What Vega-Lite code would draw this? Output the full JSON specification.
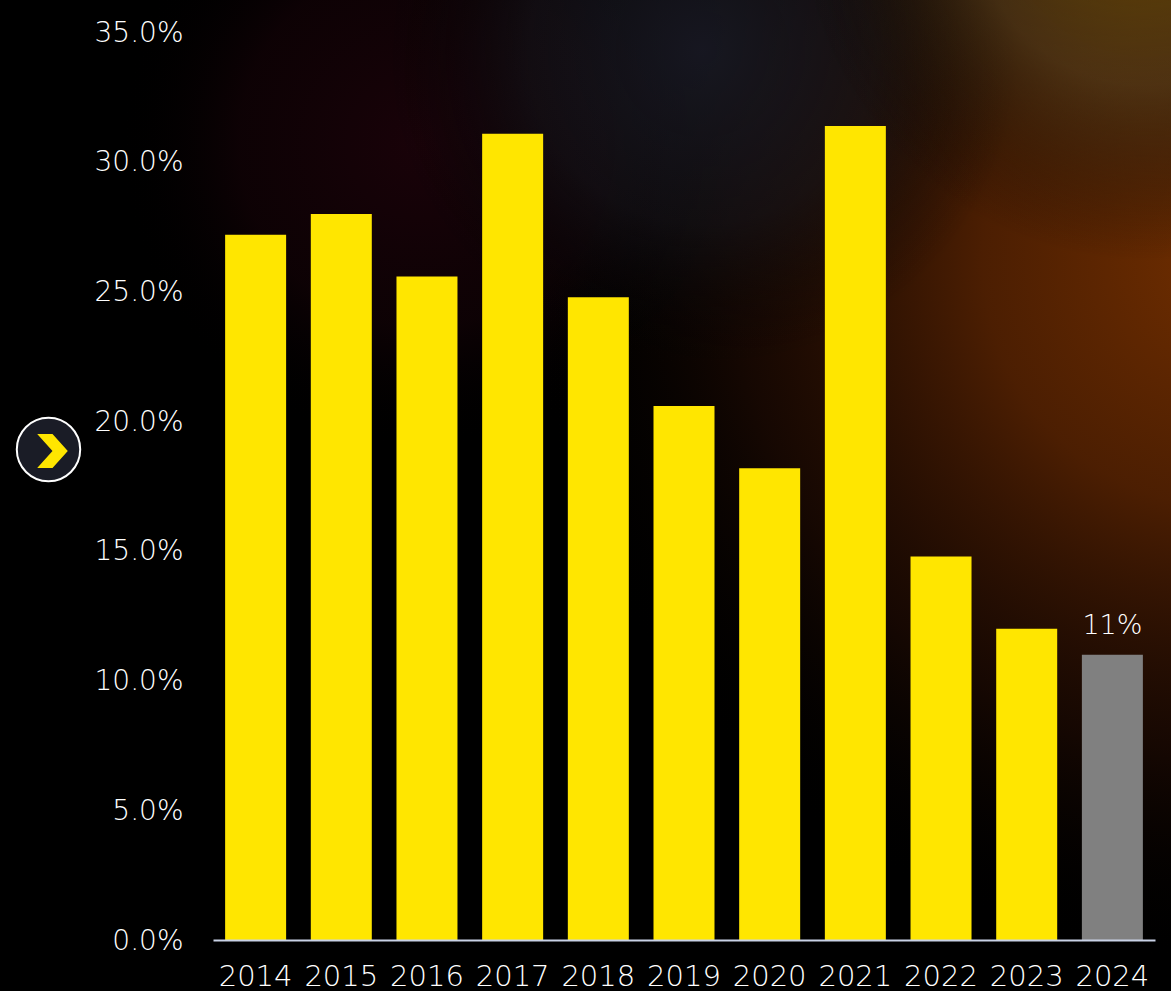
{
  "$schema": "https://vega.github.io/schema/vega-lite/v6.json",
  "width": 942,
  "height": 908,
  "autosize": "none",
  "padding": {"left": 213, "top": 32, "right": 16, "bottom": 51},
  "background": "#000000",
  "config": {"view": {"stroke": null}},
  "datasets": {
    "rates": [
      {"year": "2014", "rate": 27.18, "status": "past"},
      {"year": "2015", "rate": 27.98, "status": "past"},
      {"year": "2016", "rate": 25.58, "status": "past"},
      {"year": "2017", "rate": 31.08, "status": "past"},
      {"year": "2018", "rate": 24.78, "status": "past"},
      {"year": "2019", "rate": 20.58, "status": "past"},
      {"year": "2020", "rate": 18.18, "status": "past"},
      {"year": "2021", "rate": 31.38, "status": "past"},
      {"year": "2022", "rate": 14.78, "status": "past"},
      {"year": "2023", "rate": 12.0, "status": "past"},
      {"year": "2024", "rate": 11.0, "status": "latest"}
    ]
  },
  "layer": [
    {
      "data": {"values": [{"panel": "glow"}]},
      "mark": {
        "type": "rect",
        "clip": false,
        "fill": {
          "gradient": "radial", "x1": 1.05, "y1": 0.3, "r1": 0, "x2": 1.05, "y2": 0.3, "r2": 0.6,
          "stops": [
            {"offset": 0, "color": "rgba(112,46,0,1)"},
            {"offset": 0.35, "color": "rgba(80,32,2,0.95)"},
            {"offset": 0.7, "color": "rgba(40,14,4,0.55)"},
            {"offset": 1, "color": "rgba(0,0,0,0)"}
          ]
        }
      },
      "encoding": {
        "x": {"value": -213},
        "x2": {"value": 958},
        "y": {"value": -32},
        "y2": {"value": 959}
      }
    },
    {
      "data": {"values": [{"panel": "wine"}]},
      "mark": {
        "type": "rect",
        "clip": false,
        "fill": {
          "gradient": "radial", "x1": 0.36, "y1": 0.2, "r1": 0, "x2": 0.36, "y2": 0.2, "r2": 0.26,
          "stops": [
            {"offset": 0, "color": "rgba(34,3,12,0.75)"},
            {"offset": 0.6, "color": "rgba(24,3,8,0.55)"},
            {"offset": 1, "color": "rgba(0,0,0,0)"}
          ]
        }
      },
      "encoding": {
        "x": {"value": -213},
        "x2": {"value": 958},
        "y": {"value": -32},
        "y2": {"value": 959}
      }
    },
    {
      "data": {"values": [{"panel": "steel"}]},
      "mark": {
        "type": "rect",
        "clip": false,
        "fill": {
          "gradient": "radial", "x1": 0.6, "y1": 0.12, "r1": 0, "x2": 0.6, "y2": 0.12, "r2": 0.27,
          "stops": [
            {"offset": 0, "color": "rgba(24,25,36,0.9)"},
            {"offset": 0.55, "color": "rgba(20,20,26,0.6)"},
            {"offset": 1, "color": "rgba(0,0,0,0)"}
          ]
        }
      },
      "encoding": {
        "x": {"value": -213},
        "x2": {"value": 958},
        "y": {"value": -32},
        "y2": {"value": 959}
      }
    },
    {
      "data": {"values": [{"panel": "sheen"}]},
      "mark": {
        "type": "rect",
        "clip": false,
        "fill": {
          "gradient": "radial", "x1": 0.98, "y1": 0, "r1": 0, "x2": 0.98, "y2": 0, "r2": 0.3,
          "stops": [
            {"offset": 0, "color": "rgba(100,68,0,1)"},
            {"offset": 0.5, "color": "rgba(76,56,24,0.7)"},
            {"offset": 1, "color": "rgba(0,0,0,0)"}
          ]
        }
      },
      "encoding": {
        "x": {"value": -213},
        "x2": {"value": 958},
        "y": {"value": -32},
        "y2": {"value": 959}
      }
    },
    {
      "data": {"name": "rates"},
      "mark": {"type": "bar", "width": 61},
      "encoding": {
        "x": {
          "field": "year", "type": "nominal", "sort": null,
          "scale": {"paddingInner": 0.285, "paddingOuter": 0.14},
          "axis": {
            "title": null, "labelAngle": 0, "labelColor": "#ffffff", "labelFont": "DejaVu Sans",
            "labelFontWeight": 200, "labelFontSize": 29, "labelPadding": 22, "ticks": false,
            "domainColor": "#c9d2e6", "domainWidth": 2, "labelOverlap": false, "zindex": 1
          }
        },
        "y": {
          "field": "rate", "type": "quantitative",
          "scale": {"domain": [0, 35], "nice": false},
          "axis": {
            "title": null, "values": [0, 5, 10, 15, 20, 25, 30, 35], "format": ".1f", "labelExpr": "datum.label + '%'",
            "labelColor": "#ffffff", "labelFont": "DejaVu Sans", "labelFontWeight": 200, "labelFontSize": 28,
            "labelPadding": 30, "labelOffset": 1, "ticks": false, "domain": false, "grid": false, "zindex": 1
          }
        },
        "color": {
          "field": "status", "type": "nominal",
          "scale": {"domain": ["past", "latest"], "range": ["#ffe600", "#808080"]},
          "legend": null
        }
      }
    },
    {
      "data": {"name": "rates"},
      "transform": [{"filter": "datum.status === 'latest'"}],
      "mark": {"type": "text", "dy": -29, "font": "DejaVu Sans", "fontWeight": 200, "fontSize": 27, "color": "#ffffff", "text": "11%"},
      "encoding": {
        "x": {"field": "year", "type": "nominal", "sort": null},
        "y": {"field": "rate", "type": "quantitative"}
      }
    },
    {
      "data": {"values": [{"badge": "next"}]},
      "mark": {"type": "point", "clip": false, "shape": "circle", "size": 4020, "filled": true, "fill": "#1a1c26", "stroke": "#ffffff", "strokeWidth": 2, "opacity": 1},
      "encoding": {"x": {"value": -164.5}, "y": {"value": 417.5}}
    },
    {
      "data": {"values": [{"badge": "next"}]},
      "mark": {"type": "point", "clip": false, "shape": "M -0.9 -1 L 0 -1 L 0.9 0 L 0 1 L -0.9 1 L 0 0 Z", "size": 1156, "filled": true, "fill": "#ffe600", "strokeWidth": 0, "opacity": 1},
      "encoding": {"x": {"value": -160.5}, "y": {"value": 419}}
    }
  ]
}
